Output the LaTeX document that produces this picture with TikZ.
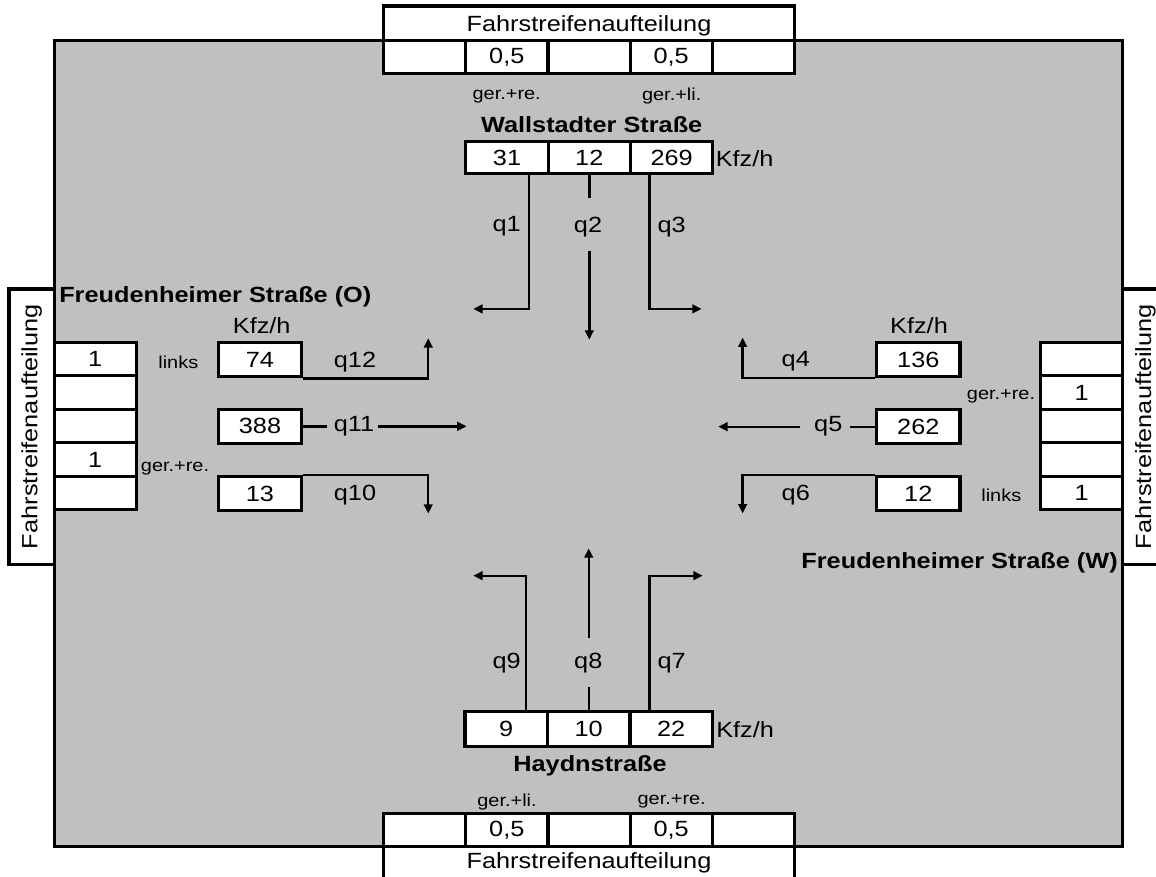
\documentclass[tikz,border=0pt]{standalone}
\usepackage{fontspec}
\setmainfont{Liberation Sans}[FakeStretch=1.15]
\usetikzlibrary{arrows.meta,calc}
\definecolor{roadgray}{RGB}{192,192,192}
\begin{document}
\begin{tikzpicture}[x=0.75pt,y=-0.75pt,
  txt/.style={font=\fontsize{16.5}{19}\selectfont, inner sep=0pt},
  small/.style={font=\fontsize{13}{15}\selectfont, inner sep=0pt},
  street/.style={font=\fontsize{16.5}{19}\selectfont\bfseries, inner sep=0pt},
  box/.style={draw, fill=white, line width=2.4pt, inner sep=0pt, font=\fontsize{16.5}{19}\selectfont},
  lane/.style={box, minimum width=61.65pt, minimum height=24.75pt},
  flowtop/.style={box, minimum width=61.7pt, minimum height=23.7pt},
  flowbot/.style={box, minimum width=61.9pt, minimum height=26.25pt},
  sidelane/.style={box, minimum width=61.4pt, minimum height=25.1pt},
  sideflow/.style={box, minimum width=62.5pt, minimum height=25.5pt},
  title/.style={box, minimum width=308.25pt, minimum height=25.9pt},
  sidetitle/.style={box, rotate=90, minimum width=206.5pt, minimum height=33.9pt},
  flow/.style={line width=1.8pt},
  arr/.style={-{Triangle[length=7pt,width=6.5pt]}}]

\useasboundingbox (0,0) rectangle (1156,877);
\clip (0,0) rectangle (1156,877);

% intersection area
\node[draw, fill=roadgray, line width=2.4pt, minimum width=801.4pt, minimum height=604.5pt, inner sep=0pt] (area) at (588.55,443.5) {};

% lane-allocation title boxes
\node[title, text height=14pt, text depth=1.4pt] (ttitle) at (589,23.25) {Fahrstreifenaufteilung};
\node[title] (btitle) at (589,863) {Fahrstreifenaufteilung};
\node[sidetitle] (ltitle) at (31.65,426.65) {Fahrstreifenaufteilung};
\node[sidetitle] (rtitle) at (1145.4,426.65) {Fahrstreifenaufteilung};

% top lane cells
\node[lane] (tl1) at (424.6,57) {};
\node[lane] (tl2) at (506.8,57) {0,5};
\node[lane] (tl3) at (589,57) {};
\node[lane] (tl4) at (671.2,57) {0,5};
\node[lane] (tl5) at (753.4,57) {};
% bottom lane cells
\node[lane] (bl1) at (424.6,830) {};
\node[lane] (bl2) at (506.8,830) {0,5};
\node[lane] (bl3) at (589,830) {};
\node[lane] (bl4) at (671.2,830) {0,5};
\node[lane] (bl5) at (753.4,830) {};
% left lane cells
\node[sidelane] (ll1) at (95.2,359) {1};
\node[sidelane] (ll2) at (95.2,392.5) {};
\node[sidelane] (ll3) at (95.2,426) {};
\node[sidelane] (ll4) at (95.2,459.5) {1};
\node[sidelane] (ll5) at (95.2,493) {};
% right lane cells
\node[sidelane] (rl1) at (1081.75,359) {};
\node[sidelane] (rl2) at (1081.75,392.5) {1};
\node[sidelane] (rl3) at (1081.75,426) {};
\node[sidelane] (rl4) at (1081.75,459.5) {};
\node[sidelane] (rl5) at (1081.75,493) {1};

% lane labels
\node[small] (tgr) at (506.7,96) {ger.+re.};
\node[small] (tgl) at (671.7,96) {ger.+li.};
\node[small] (bgl) at (507,801.7) {ger.+li.};
\node[small] (bgr) at (671.7,801.7) {ger.+re.};
\node[small] (llinks) at (178.3,362) {links};
\node[small] (lgr) at (175,468) {ger.+re.};
\node[small] (rgr) at (1001,396) {ger.+re.};
\node[small] (rlinks) at (1001.3,495.5) {links};

% street names
\node[street] (nwall) at (591.7,124.5) {Wallstadter Straße};
\node[street] (nhay) at (590,766) {Haydnstraße};
\node[street, anchor=west] (nfo) at (59,297) {Freudenheimer Straße (O)};
\node[street, anchor=east] (nfw) at (1118,563) {Freudenheimer Straße (W)};

% flow boxes
\node[flowtop] (t31) at (507,157.5) {31};
\node[flowtop] (t12) at (589.3,157.5) {12};
\node[flowtop] (t269) at (671.6,157.5) {269};
\node[txt, anchor=west] (tkfz) at (715.5,158.5) {Kfz/h};
\node[flowbot] (b9) at (506.2,729.2) {9};
\node[flowbot] (b10) at (588.7,729.2) {10};
\node[flowbot] (b22) at (671.2,729.2) {22};
\node[txt, anchor=west] (bkfz) at (716,730) {Kfz/h};
\node[sideflow] (l74) at (260,359.7) {74};
\node[sideflow] (l388) at (260,426.3) {388};
\node[sideflow] (l13) at (260,493.7) {13};
\node[txt] (lkfz) at (261.7,326) {Kfz/h};
\node[sideflow] (r136) at (918.3,359.5) {136};
\node[sideflow] (r262) at (918.3,426.7) {262};
\node[sideflow] (r12) at (918.3,493.7) {12};
\node[txt] (rkfz) at (919,326) {Kfz/h};

% flow labels
\node[txt] (q1) at (506.7,226.7) {q1};
\node[txt] (q2) at (588,226.7) {q2};
\node[txt] (q3) at (671.7,226.7) {q3};
\node[txt] (q9) at (506.7,663.3) {q9};
\node[txt] (q8) at (588.3,663.3) {q8};
\node[txt] (q7) at (671.7,663.3) {q7};
\node[txt] (q12) at (355,361.7) {q12};
\node[txt] (q11) at (354,426.7) {q11};
\node[txt] (q10) at (355,495) {q10};
\node[txt] (q4) at (795.8,361.7) {q4};
\node[txt] (q5) at (828.3,426.7) {q5};
\node[txt] (q6) at (795.8,495) {q6};

% flows from the north
\draw[flow,arr] ($(t31.south)+(21.7,0)$) -- ++(0,134) -- ++(-55.4,0);
\draw[flow] (t12.south) -- ++(0,23.4);
\draw[flow,arr] ($(t12.south)+(0,75.7)$) -- ++(0,89);
\draw[flow,arr] ($(t269.south)+(-22,0)$) -- ++(0,134) -- ++(52,0);
% flows from the south
\draw[flow,arr] ($(b9.north)+(19.8,0)$) -- ++(0,-134.4) -- ++(-52.7,0);
\draw[flow] (b10.north) -- ++(0,-23.4);
\draw[flow,arr] ($(b10.north)+(0,-71.7)$) -- ++(0,-90);
\draw[flow,arr] ($(b22.north)+(-21.9,0)$) -- ++(0,-134.4) -- ++(53.4,0);
% flows from the left arm
\draw[flow,arr] (l74.south east) -- ++(125,0) -- ++(0,-40);
\draw[flow] (l388.east) -- ++(23.3,0);
\draw[flow,arr] ($(l388.east)+(75,0)$) -- ++(88.3,0);
\draw[flow,arr] (l13.north east) -- ++(125,0) -- ++(0,38.5);
% flows from the right arm
\draw[flow,arr] (r136.south west) -- ++(-132.4,0) -- ++(0,-40.5);
\draw[flow] (r262.west) -- ++(-25,0);
\draw[flow,arr] ($(r262.west)+(-75,0)$) -- ++(-81.7,0);
\draw[flow,arr] (r12.north west) -- ++(-132.4,0) -- ++(0,38.3);
\end{tikzpicture}
\end{document}
